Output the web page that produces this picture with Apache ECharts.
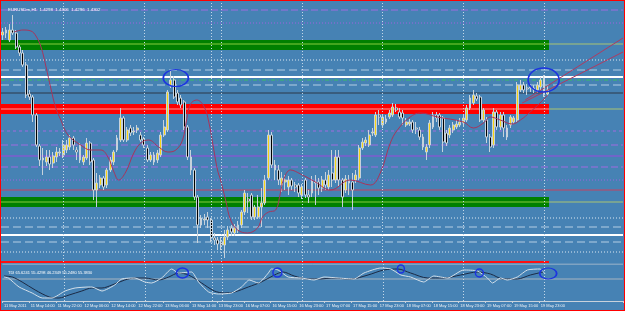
<!DOCTYPE html>
<html>
<head>
<meta charset="utf-8">
<script src="https://cdn.jsdelivr.net/npm/echarts@6/dist/echarts.min.js"></script>
<style>
html, body { margin: 0; padding: 0; background: #fff; }
#chart { width: 625px; height: 311px; box-sizing: border-box; border: 1px solid #ff0000; background: #4682b4; }
</style>
</head>
<body>
<div id="chart"></div>
<script>
// EURUSDm H1, 11 May 06:00 .. 20 May 00:00 (one bar per slot)
const opens = [
  1.4357,1.4362,1.4352,1.4362,1.4359,1.4345,1.4339,1.4327,1.4298,1.4295,
  1.4277,1.4246,1.4232,1.4230,1.4235,1.4229,1.4235,1.4239,1.4237,1.4242,
  1.4245,1.4254,1.4242,1.4247,1.4230,1.4234,1.4249,1.4232,1.4202,1.4207,
  1.4214,1.4207,1.4222,1.4230,1.4242,1.4252,1.4274,1.4252,1.4264,1.4260,
  1.4262,1.4257,1.4253,1.4244,1.4232,1.4237,1.4232,1.4237,1.4257,1.4262,
  1.4306,1.4312,1.4299,1.4294,1.4290,1.4265,1.4235,1.4222,1.4195,1.4167,
  1.4172,1.4175,1.4172,1.4154,1.4152,1.4150,1.4147,1.4155,1.4164,1.4159,
  1.4162,1.4167,1.4180,1.4193,1.4197,1.4175,1.4175,1.4185,1.4189,1.4214,
  1.4257,1.4227,1.4222,1.4207,1.4210,1.4205,1.4212,1.4207,1.4207,1.4197,
  1.4212,1.4197,1.4199,1.4210,1.4210,1.4204,1.4212,1.4205,1.4219,1.4212,
  1.4235,1.4212,1.4202,1.4212,1.4210,1.4212,1.4214,1.4244,1.4249,1.4247,
  1.4259,1.4257,1.4277,1.4267,1.4270,1.4275,1.4277,1.4284,1.4280,1.4279,
  1.4267,1.4268,1.4270,1.4264,1.4262,1.4255,1.4240,1.4247,1.4265,1.4277,
  1.4277,1.4274,1.4259,1.4257,1.4262,1.4265,1.4267,1.4269,1.4272,1.4284,
  1.4289,1.4296,1.4295,1.4272,1.4272,1.4255,1.4247,1.4280,1.4265,1.4277,
  1.4255,1.4267,1.4270,1.4272,1.4302,1.4307,1.4304,1.4304,1.4303,1.4302,
  1.4305,1.4314,1.4298
];
const closes = [
  1.4360,1.4359,1.4362,1.4359,1.4345,1.4339,1.4327,1.4297,1.4295,1.4277,
  1.4247,1.4232,1.4234,1.4235,1.4228,1.4236,1.4240,1.4240,1.4247,1.4247,
  1.4254,1.4247,1.4240,1.4232,1.4235,1.4249,1.4230,1.4202,1.4209,1.4214,
  1.4205,1.4222,1.4232,1.4240,1.4254,1.4274,1.4252,1.4262,1.4259,1.4261,
  1.4264,1.4252,1.4247,1.4232,1.4237,1.4230,1.4239,1.4257,1.4265,1.4300,
  1.4312,1.4295,1.4290,1.4287,1.4265,1.4235,1.4222,1.4195,1.4167,1.4174,
  1.4173,1.4172,1.4154,1.4152,1.4148,1.4147,1.4155,1.4162,1.4160,1.4164,
  1.4167,1.4180,1.4199,1.4191,1.4175,1.4185,1.4185,1.4189,1.4212,1.4257,
  1.4227,1.4222,1.4212,1.4214,1.4212,1.4212,1.4206,1.4205,1.4199,1.4205,
  1.4197,1.4195,1.4212,1.4209,1.4204,1.4212,1.4207,1.4217,1.4212,1.4235,
  1.4212,1.4195,1.4213,1.4209,1.4202,1.4217,1.4244,1.4250,1.4252,1.4257,
  1.4260,1.4277,1.4275,1.4275,1.4273,1.4279,1.4285,1.4282,1.4275,1.4274,
  1.4270,1.4270,1.4262,1.4263,1.4255,1.4245,1.4245,1.4269,1.4277,1.4274,
  1.4265,1.4250,1.4249,1.4264,1.4267,1.4268,1.4270,1.4274,1.4284,1.4294,
  1.4297,1.4293,1.4272,1.4282,1.4255,1.4245,1.4280,1.4265,1.4277,1.4264,
  1.4264,1.4275,1.4274,1.4307,1.4307,1.4302,1.4303,1.4305,1.4304,1.4307,
  1.4312,1.4297,1.4302
];
const lows = [
  1.4352,1.4354,1.4350,1.4357,1.4343,1.4336,1.4325,1.4294,1.4292,1.4270,
  1.4245,1.4226,1.4217,1.4226,1.4222,1.4224,1.4230,1.4236,1.4234,1.4239,
  1.4242,1.4242,1.4232,1.4229,1.4227,1.4232,1.4227,1.4192,1.4185,1.4204,
  1.4202,1.4204,1.4220,1.4227,1.4240,1.4250,1.4250,1.4250,1.4256,1.4257,
  1.4259,1.4250,1.4244,1.4230,1.4230,1.4227,1.4229,1.4235,1.4255,1.4260,
  1.4304,1.4293,1.4287,1.4284,1.4262,1.4232,1.4217,1.4192,1.4149,1.4164,
  1.4167,1.4164,1.4150,1.4147,1.4142,1.4142,1.4134,1.4152,1.4156,1.4156,
  1.4159,1.4164,1.4177,1.4179,1.4172,1.4172,1.4173,1.4165,1.4187,1.4212,
  1.4224,1.4212,1.4207,1.4200,1.4202,1.4197,1.4202,1.4200,1.4195,1.4193,
  1.4194,1.4189,1.4195,1.4187,1.4197,1.4200,1.4202,1.4202,1.4205,1.4209,
  1.4206,1.4185,1.4199,1.4197,1.4182,1.4209,1.4212,1.4242,1.4246,1.4245,
  1.4256,1.4255,1.4267,1.4264,1.4268,1.4273,1.4275,1.4280,1.4273,1.4267,
  1.4265,1.4266,1.4259,1.4258,1.4252,1.4242,1.4232,1.4244,1.4263,1.4270,
  1.4262,1.4240,1.4246,1.4254,1.4259,1.4263,1.4265,1.4266,1.4270,1.4282,
  1.4287,1.4291,1.4270,1.4270,1.4249,1.4240,1.4244,1.4262,1.4262,1.4255,
  1.4252,1.4264,1.4268,1.4270,1.4300,1.4299,1.4297,1.4300,1.4299,1.4299,
  1.4302,1.4295,1.4296
];
const highs = [
  1.4364,1.4365,1.4368,1.4377,1.4362,1.4347,1.4342,1.4330,1.4302,1.4297,
  1.4279,1.4248,1.4244,1.4242,1.4242,1.4240,1.4245,1.4244,1.4252,1.4252,
  1.4257,1.4256,1.4245,1.4249,1.4237,1.4254,1.4251,1.4234,1.4219,1.4217,
  1.4216,1.4224,1.4235,1.4242,1.4257,1.4284,1.4276,1.4265,1.4267,1.4265,
  1.4267,1.4260,1.4255,1.4247,1.4240,1.4240,1.4242,1.4260,1.4272,1.4302,
  1.4322,1.4316,1.4302,1.4297,1.4292,1.4267,1.4242,1.4224,1.4197,1.4177,
  1.4178,1.4180,1.4174,1.4159,1.4155,1.4155,1.4162,1.4166,1.4167,1.4168,
  1.4171,1.4182,1.4202,1.4199,1.4199,1.4187,1.4197,1.4204,1.4217,1.4262,
  1.4260,1.4232,1.4227,1.4220,1.4217,1.4216,1.4214,1.4210,1.4209,1.4208,
  1.4214,1.4202,1.4216,1.4217,1.4214,1.4216,1.4220,1.4222,1.4242,1.4242,
  1.4242,1.4214,1.4217,1.4217,1.4219,1.4222,1.4247,1.4254,1.4255,1.4262,
  1.4264,1.4280,1.4282,1.4278,1.4277,1.4282,1.4289,1.4288,1.4284,1.4282,
  1.4274,1.4273,1.4272,1.4270,1.4265,1.4258,1.4248,1.4272,1.4280,1.4280,
  1.4279,1.4276,1.4262,1.4267,1.4270,1.4272,1.4274,1.4277,1.4287,1.4297,
  1.4302,1.4299,1.4297,1.4284,1.4275,1.4258,1.4284,1.4282,1.4280,1.4280,
  1.4267,1.4277,1.4276,1.4310,1.4312,1.4310,1.4308,1.4308,1.4307,1.4310,
  1.4315,1.4317,1.4306
];

// red curve drawn over the candles, [bar, price]
const maCurve = [
  [3.4,1.4360],[6.0,1.4362],[8.4,1.4361],[9.9,1.4356],[11.4,1.4345],[12.9,1.4325],
  [14.3,1.4304],[15.8,1.4284],[17.3,1.4272],[19.4,1.4257],[23.2,1.4247],[26.2,1.4242],
  [29.2,1.4242],[31.3,1.4235],[33.1,1.4220],[34.5,1.4212],[36.6,1.4220],[39.0,1.4239],
  [41.1,1.4249],[43.4,1.4252],[46.4,1.4245],[49.1,1.4240],[51.5,1.4242],[53.5,1.4252],
  [54.7,1.4272],[55.9,1.4288],[57.7,1.4292],[59.8,1.4286],[61.3,1.4270],[62.7,1.4244],
  [63.9,1.4222],[64.8,1.4212],[66.3,1.4192],[67.8,1.4172],[69.9,1.4162],[72.8,1.4159],
  [75.8,1.4164],[77.3,1.4175],[79.1,1.4180],[81.2,1.4182],[82.6,1.4199],[83.5,1.4212],
  [85.6,1.4222],[88.6,1.4218],[93.0,1.4210],[97.5,1.4202],[103.4,1.4212],[109.4,1.4207],
  [112.3,1.4219],[115.3,1.4249],[117.4,1.4262],[121.2,1.4275],[124.2,1.4279],[129.3,1.4275],
  [137.0,1.4270],[140.0,1.4264],[143.0,1.4269],[145.0,1.4275],[148.0,1.4272],[151.5,1.4268],
  [154.0,1.4272],[156.9,1.4280],[159.8,1.4289],[162.2,1.4297]
];
const projA = [[155.4,1.4292],[184.5,1.4354]];
const projB = [[154.5,1.4289],[184.5,1.4340]];

// horizontal line objects
const levelPrices = [1.4382,1.4369,1.4332,1.4322,1.4315,1.4312,1.4307,1.4299,
  1.4261,1.4247,1.4236,1.4225,1.4212,1.4202,1.4174,1.4165,1.4157,1.4150,1.4140];
const levelKinds = ['purpleDash','purpleDot','whiteDot','lightDash','white','greenDash','lightDash','dark',
  'purpleShort','purpleDash','purple','purpleDash','purpleDot','crimson','whiteDot','lightDash','white','lightDash','whiteDot'];
// zones: top, bottom, middle line
const zoneTops = [1.4352, 1.4288, 1.4195];
const zoneBottoms = [1.4342, 1.4278, 1.4185];
const zoneMids = [1.4348, 1.4283, 1.4190];
const zoneKinds = ['green', 'red', 'green'];
const zoneEndBar = 162.5;
const separatorPrice = 1.4130;

// day separators (bar index)
const dayBars = [18, 42, 62, 65, 89, 113, 137, 161];

// TDI sub window
const tdiFast = [
  [0,52],[1.3,51],[4.5,42],[8.4,36],[11.4,31],[14.3,31],[18.2,38],[21.2,41],[25.3,42],
  [26.2,42],[29.2,38],[33,44],[35.1,50],[39,51],[42,47],[44,46],[47,51],[50,60],[52,56],
  [55.9,57],[58,47],[61,37],[63.9,35],[67.8,36],[70.8,42],[73.1,49],[75.8,46],[78.8,56],
  [79.7,60],[81.7,59],[84.7,52],[88.6,51],[92.4,49],[95.4,52],[99.6,51],[104.3,50],[107.3,56],
  [112.3,61],[115.3,60],[118.3,54],[121.2,52],[125.1,47],[128.1,53],[132.2,51],[137,59],
  [141.1,58],[144.1,51],[145.6,46],[148,51],[150,49],[153,52],[156,59],[159.8,60],[161.3,55]
];
const tdiSlow = [
  [0,53],[2.5,52],[5.4,47],[9.3,39],[13.5,32],[16.4,31],[19.4,34],[23.2,38],[26.2,41],
  [29.2,41],[32.2,44],[36,49],[39,51],[42,51],[46.1,49],[49.1,52],[52,56],[55,54],[58.9,46],
  [62.7,38],[65.7,36],[68.7,37],[72.8,42],[76.7,47],[80.6,54],[83.2,57],[86.5,53],[90.6,50],
  [94.5,50],[97.5,51],[103.4,50],[108.5,54],[113.2,59],[117.4,60],[121.2,56],[126.3,51],
  [131,51],[136.1,54],[141.1,57],[145,55],[148.8,50],[153,50],[156.9,54],[160.7,57]
];
const tdiMid = 50;
const tdiTop = 65;
const tdiValues = '65.6241 55.4298 46.2349 55.2480 55.3830';

const tickLabels = ['11 May 2011','11 May 14:00','11 May 22:00','12 May 06:00','12 May 14:00',
  '12 May 22:00','13 May 06:00','13 May 14:00','13 May 23:00','16 May 07:00','16 May 15:00',
  '16 May 23:00','17 May 07:00','17 May 15:00','17 May 23:00','18 May 07:00','18 May 15:00',
  '18 May 23:00','19 May 07:00','19 May 15:00','19 May 23:00'];
const tickStep = 8;

// hand drawn marks: [bar, value, w, h]
const priceMarks = [[51.5, 1.4314, 25, 17], [160.9, 1.4312, 31, 24]];
const tdiMarks = [[53.2, 56, 12, 10], [81.5, 56.5, 9, 9], [118.3, 60, 7, 8], [141.7, 56, 8, 8], [162.2, 55.5, 17, 11]];

const slotCount = 185;
const slots = [];
for (let i = 0; i < slotCount; i++) slots.push(i);
const leftEdge = -0.5, rightEdge = slotCount - 0.5;

const levelStyles = {
  purpleDash: { color: '#a06ae0', width: 1, type: [7, 3] },
  purpleShort: { color: '#a06ae0', width: 1, type: [3, 3] },
  purpleDot: { color: '#a060e0', width: 1, type: [1, 2] },
  purple: { color: '#9a48de', width: 1, type: 'solid' },
  crimson: { color: '#c8405e', width: 1, type: 'solid' },
  whiteDot: { color: '#dce8f2', width: 1, type: [1, 2] },
  lightDash: { color: '#b4cee4', width: 1, type: [8, 4] },
  white: { color: '#ffffff', width: 2, type: 'solid' },
  greenDash: { color: '#38c060', width: 1, type: [4, 2, 1, 2] },
  dark: { color: '#2c3848', width: 1, type: 'solid' }
};
const zoneFill = { green: '#008000', red: '#ff0000' };
const zoneInner = { green: '#86cc3c', red: '#ff9a9a' };
const gridLineStyle = { color: '#c4d8e8', width: 1, type: [1, 2] };
const noSym = ['none', 'none'];

// one flat line series per level
function hline(p, style, from, to, xi, yi, z) {
  return {
    type: 'line', xAxisIndex: xi, yAxisIndex: yi, z: z, silent: true,
    data: [[from, p], [to, p]], showSymbol: false, symbol: 'none',
    lineStyle: Object.assign({}, style)
  };
}

const chart = echarts.init(document.getElementById('chart'));

const levelSeries = [];
levelPrices.forEach((p, i) => levelSeries.push(hline(p, levelStyles[levelKinds[i]], leftEdge, rightEdge, 2, 0, 2)));
zoneMids.forEach((m, i) => {
  levelSeries.push(hline(m, { color: '#aac472', width: 1 }, zoneEndBar, rightEdge, 2, 0, 2));
  levelSeries.push(hline(m, { color: zoneInner[zoneKinds[i]], width: 1 }, leftEdge, zoneEndBar, 2, 0, 2));
});
levelSeries.push(hline(separatorPrice, { color: '#ff1010', width: 2 }, leftEdge, zoneEndBar, 2, 0, 2));
levelSeries.push(hline(tdiMid, { color: '#a8b4c0', width: 1 }, leftEdge, rightEdge, 3, 1, 2));
levelSeries.push(hline(tdiTop, { color: '#b8c4d0', width: 1 }, leftEdge, rightEdge, 3, 1, 2));

const zoneAreas = zoneTops.map((t, i) => [
  { xAxis: leftEdge, yAxis: t, itemStyle: { color: zoneFill[zoneKinds[i]] } },
  { xAxis: zoneEndBar, yAxis: zoneBottoms[i] }
]);

const ellipse = (m) => ({
  coord: [m[0], m[1]],
  symbol: 'circle',
  symbolSize: [m[2], m[3]],
  itemStyle: { color: 'rgba(0,0,0,0)', borderColor: '#1c34e0', borderWidth: 1.5 },
  label: { show: false }
});

chart.setOption({
  animation: false,
  backgroundColor: '#4682b4',
  title: [
    { text: 'EURUSDm,H1  1.4298  1.4306  1.4296  1.4302', left: 2, top: 2,
      textStyle: { color: '#ffffff', fontSize: 4.4, fontWeight: 'normal', fontFamily: 'Liberation Sans' } },
    { text: 'TDI ' + tdiValues, left: 2, top: 265,
      textStyle: { color: '#ffffff', fontSize: 4, fontWeight: 'normal', fontFamily: 'Liberation Sans' } }
  ],
  grid: [
    { left: -1, top: 0, width: 623, height: 261 },
    { left: -1, top: 263, width: 623, height: 37 }
  ],
  xAxis: [
    { type: 'category', gridIndex: 0, data: slots, show: false },
    { type: 'category', gridIndex: 1, data: slots,
      axisLine: { show: true, lineStyle: { color: '#c8d2dc', width: 1 } },
      axisTick: { show: true, length: 2, interval: (i) => i % tickStep === 0 && i / tickStep < tickLabels.length,
        lineStyle: { color: '#c8d2dc' } },
      axisLabel: { show: true, interval: (i) => i % tickStep === 0 && i / tickStep < tickLabels.length,
        formatter: (v, i) => tickLabels[i / tickStep] || '', align: 'left', margin: 3,
        color: '#eef3f8', fontSize: 4, fontFamily: 'Liberation Sans' },
      splitLine: { show: false } },
    { type: 'value', gridIndex: 0, min: leftEdge, max: rightEdge, show: false },
    { type: 'value', gridIndex: 1, min: leftEdge, max: rightEdge, show: false }
  ],
  yAxis: [
    { type: 'value', gridIndex: 0, min: 1.4130, max: 1.4391, show: false, splitLine: { show: false } },
    { type: 'value', gridIndex: 1, min: 28, max: 65, show: false, splitLine: { show: false } }
  ],
  series: [
    {
      name: 'zones', type: 'line', xAxisIndex: 2, yAxisIndex: 0, data: [], z: 1, silent: true,
      markArea: { silent: true, data: zoneAreas },
      markLine: { silent: true, symbol: noSym, label: { show: false },
        data: dayBars.map(b => ({ xAxis: b, lineStyle: gridLineStyle })) }
    },
    {
      name: 'tdiGrid', type: 'line', xAxisIndex: 3, yAxisIndex: 1, data: [], z: 1, silent: true,
      markLine: { silent: true, symbol: noSym, label: { show: false },
        data: dayBars.map(b => ({ xAxis: b, lineStyle: gridLineStyle })) }
    }
  ].concat(levelSeries).concat([
    {
      name: 'EURUSDm', type: 'candlestick', xAxisIndex: 0, yAxisIndex: 0, z: 3,
      barWidth: 2.4,
      data: opens.map((o, i) => [o, closes[i], lows[i], highs[i]]),
      itemStyle: { color: '#f4d418', color0: '#000000', borderColor: '#c6d2dc', borderColor0: '#c6d2dc', borderWidth: 1 }
    },
    {
      name: 'curve', type: 'line', xAxisIndex: 2, yAxisIndex: 0, z: 4, data: maCurve,
      smooth: 0.4, showSymbol: false, lineStyle: { color: '#a8345c', width: 1 },
      markPoint: { silent: true, data: priceMarks.map(ellipse) }
    },
    { name: 'projA', type: 'line', xAxisIndex: 2, yAxisIndex: 0, z: 4, data: projA,
      showSymbol: false, lineStyle: { color: '#b03a60', width: 1 } },
    { name: 'projB', type: 'line', xAxisIndex: 2, yAxisIndex: 0, z: 4, data: projB,
      showSymbol: false, lineStyle: { color: '#b03a60', width: 1 } },
    { name: 'tdiSlow', type: 'line', xAxisIndex: 3, yAxisIndex: 1, z: 3, data: tdiSlow,
      smooth: 0.3, showSymbol: false, lineStyle: { color: '#1c2a44', width: 1 },
      markPoint: { silent: true, data: tdiMarks.map(ellipse) } },
    { name: 'tdiFast', type: 'line', xAxisIndex: 3, yAxisIndex: 1, z: 3, data: tdiFast,
      smooth: 0.2, showSymbol: false, lineStyle: { color: '#d4e0ea', width: 1 } }
  ])
});
</script>
</body>
</html>
